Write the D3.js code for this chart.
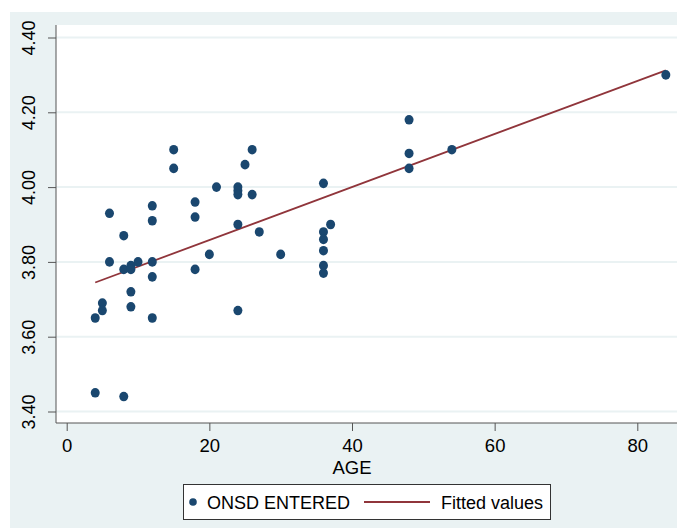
<!DOCTYPE html>
<html><head><meta charset="utf-8">
<script src="https://cdn.jsdelivr.net/npm/d3@7"></script>
<style>body{margin:0;background:#fff}svg{display:block;font-family:"Liberation Sans",Arial,sans-serif}</style>
</head><body><svg id="c" width="678" height="528"></svg>
<script>
// Data (AGE vs ONSD ENTERED)
const ages = [4,4,5,5,6,6,8,8,8,9,9,9,9,10,12,12,12,12,12,15,15,18,18,18,20,21,24,24,24,24,24,25,26,26,27,30,36,36,36,36,36,36,37,48,48,48,54,84];
const onsd = [3.65,3.45,3.69,3.67,3.93,3.80,3.87,3.78,3.44,3.79,3.78,3.72,3.68,3.80,3.95,3.91,3.80,3.76,3.65,4.10,4.05,3.96,3.92,3.78,3.82,4.00,4.00,3.99,3.98,3.90,3.67,4.06,4.10,3.98,3.88,3.82,4.01,3.88,3.86,3.83,3.79,3.77,3.90,4.18,4.09,4.05,4.10,4.30];
const fittedAge = [4, 84];
const fittedVal = [3.745, 4.312];
const yTicks = [3.40, 3.60, 3.80, 4.00, 4.20, 4.40];
const xTicks = [0, 20, 40, 60, 80];
const legendLabels = ["ONSD ENTERED", "Fitted values"];

const svg = d3.select("#c");
const navy = "#1a476f", maroon = "#90353b", bg = "#eaf2f3", grid = "#eaf2f3";

svg.append("rect").attr("x",10).attr("y",12).attr("width",667).attr("height",516).attr("fill",bg);
const L=56, T=25, R=677, B=423;
svg.append("rect").attr("x",L).attr("y",T).attr("width",R-L).attr("height",B-T).attr("fill","#fff");

const x = d3.scaleLinear().domain([0,80]).range([66.7,637.3]);
const y = d3.scaleLinear().domain([3.40,4.40]).range([411.5,37.5]);

// gridlines
svg.append("g").selectAll("line").data(yTicks).join("line")
  .attr("x1",L).attr("x2",R).attr("y1",d=>y(d)).attr("y2",d=>y(d))
  .attr("stroke",grid).attr("stroke-width",2);

// axes
const yAxis = svg.append("g").attr("transform",`translate(${L},0)`)
  .call(d3.axisLeft(y).tickValues(yTicks).tickSize(8).tickFormat(d3.format(".2f")));
yAxis.select(".domain").attr("d",`M0,${T}V${B}`).attr("stroke","#555");
yAxis.selectAll(".tick line").attr("stroke","#555");
yAxis.selectAll(".tick text").attr("x",0).attr("y",0).attr("dy",null)
  .attr("transform","translate(-21,0) rotate(-90)")
  .attr("text-anchor","middle").attr("font-size",18).attr("fill","#000");

const xAxis = svg.append("g").attr("transform",`translate(0,${B})`)
  .call(d3.axisBottom(x).tickValues(xTicks).tickSize(8).tickFormat(d3.format("d")));
xAxis.select(".domain").attr("d",`M${L},0H${R}`).attr("stroke","#555");
xAxis.selectAll(".tick line").attr("stroke","#555");
xAxis.selectAll(".tick text").attr("y",29).attr("dy",null).attr("font-size",18.5).attr("fill","#000");

svg.append("text").attr("x",x(40)).attr("y",474).attr("text-anchor","middle")
  .attr("font-size",18.5).text("AGE");

// fitted line
const fitData = fittedAge.map((a,i)=>[a,fittedVal[i]]);
svg.append("path").datum(fitData)
  .attr("d",d3.line().x(d=>x(d[0])).y(d=>y(d[1])))
  .attr("stroke",maroon).attr("stroke-width",1.8).attr("fill","none");

// points
svg.append("g").selectAll("ellipse").data(ages.map((a,i)=>[a,onsd[i]])).join("ellipse")
  .attr("cx",d=>x(d[0])).attr("cy",d=>y(d[1])).attr("rx",4.5).attr("ry",4.8).attr("fill",navy);

// legend
const lg = svg.append("g");
lg.append("rect").attr("x",183.5).attr("y",484.5).attr("width",367).attr("height",35)
  .attr("fill","#fff").attr("stroke","#333").attr("stroke-width",1);
lg.append("circle").attr("cx",193).attr("cy",502).attr("r",3.8).attr("fill",navy);
lg.append("text").attr("x",207).attr("y",508.5).attr("font-size",18).text(legendLabels[0]);
lg.append("line").attr("x1",364).attr("x2",430).attr("y1",502).attr("y2",502)
  .attr("stroke",maroon).attr("stroke-width",1.8);
lg.append("text").attr("x",441).attr("y",508.5).attr("font-size",18).text(legendLabels[1]);
</script></body></html>
